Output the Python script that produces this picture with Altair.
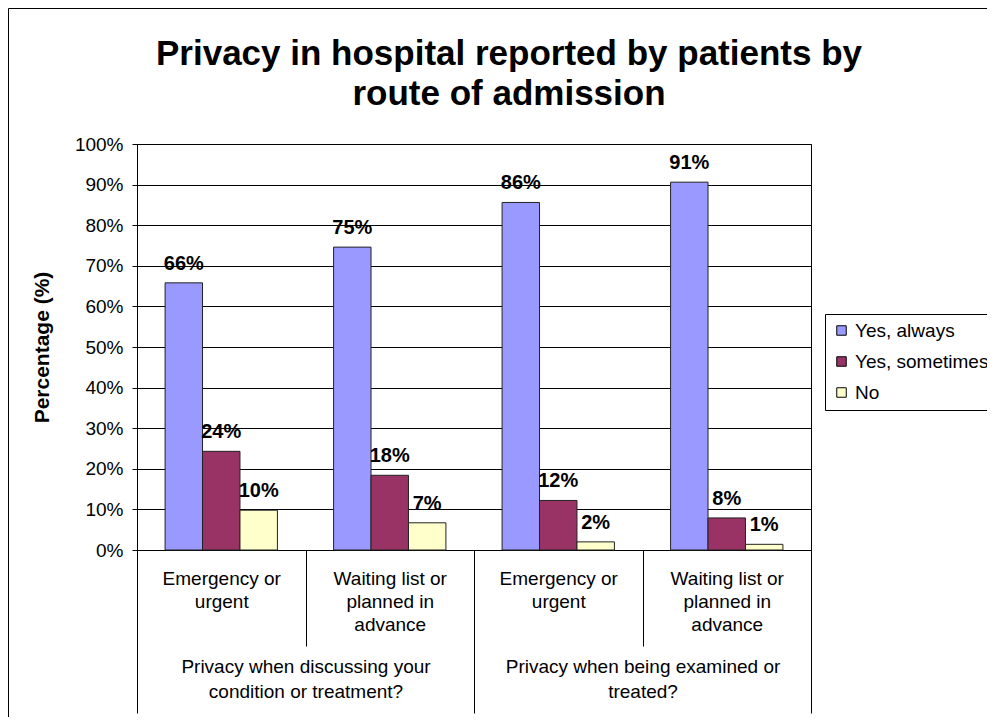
import altair as alt
import pandas as pd

# ---- data ----
title_lines = ["Privacy in hospital reported by patients by", "route of admission"]
groups = ["Privacy when discussing your|condition or treatment?",
          "Privacy when being examined or|treated?"]
routes = ["Emergency or|urgent", "Waiting list or|planned in|advance"]
series = ["Yes, always", "Yes, sometimes", "No"]
colors = ["#9999FF", "#993366", "#FFFFCC"]

yes_always = [65.8, 74.6, 85.6, 90.6]
yes_sometimes = [24.3, 18.4, 12.2, 7.9]
no_vals = [9.8, 6.7, 2.0, 1.4]

keys = []
for g_i, g in enumerate(groups):
    for r in routes:
        keys.append(f"{g_i}::{r}")

rows = []
for s, vals in zip(series, [yes_always, yes_sometimes, no_vals]):
    for k, v in zip(keys, vals):
        rows.append({"key": k, "series": s, "value": v})
df = pd.DataFrame(rows)
group_df = pd.DataFrame({"group": groups})

FONT = "Liberation Sans"

# ---- chart ----
base = alt.Chart(df)

x_cat = alt.X(
    "key:N", sort=keys,
    scale=alt.Scale(paddingInner=0, paddingOuter=0),
    axis=alt.Axis(
        title=None, orient="bottom", tickBand="extent", tickSize=96,
        tickColor="black", domainColor="black", labelColor="black",
        labelFontSize=19, labelLineHeight=23, labelBaseline="top",
        labelPadding=-77, labelAngle=0, labelLimit=400,
        labelExpr="indexof('' + datum.label, '::') < 0 ? '' : split(split(datum.label, '::')[1], '|')",
    ),
)
x_off = alt.XOffset("series:N", sort=series,
                    scale=alt.Scale(paddingInner=0, paddingOuter=0.75))
y_val = alt.Y(
    "value:Q", scale=alt.Scale(domain=[0, 100], nice=False),
    axis=alt.Axis(
        values=list(range(0, 101, 10)), labelExpr="datum.value + '%'",
        tickSize=5, tickColor="black", domainColor="black",
        gridColor="black", gridOpacity=1, gridWidth=1,
        labelColor="black", labelFontSize=19, labelPadding=9,
        title="Percentage (%)", titleFontSize=21, titleFontWeight="bold",
        titleColor="black", titleX=-95, titleY=203, titleBaseline="middle",
        titleAngle=270,
    ),
)

bars = base.mark_bar(stroke="#222222", strokeWidth=1).encode(
    x=x_cat, xOffset=x_off, y=y_val,
    color=alt.Color(
        "series:N", sort=series,
        scale=alt.Scale(domain=series, range=colors),
        legend=alt.Legend(
            title=None, orient="none", legendX=688, legendY=170,
            strokeColor="black", fillColor="white", padding=7,
            labelFontSize=19, labelColor="black", symbolType="square",
            symbolSize=90, symbolStrokeColor="black", symbolStrokeWidth=1,
            rowPadding=11, labelOffset=4, cornerRadius=0, labelLimit=400,
        ),
    ),
)

labels = base.transform_calculate(
    label="format(datum.value, '.0f') + '%'"
).mark_text(fontWeight="bold", fontSize=20, baseline="bottom", dy=-9,
            color="black").encode(
    x=alt.X("key:N", sort=keys), xOffset=alt.XOffset("series:N", sort=series),
    y=alt.Y("value:Q"), text="label:N",
)

inner = alt.layer(bars, labels)

group_layer = alt.Chart(group_df).mark_point(opacity=0).encode(
    x=alt.X(
        "group:N", sort=groups,
        scale=alt.Scale(paddingInner=0, paddingOuter=0),
        axis=alt.Axis(
            title=None, orient="bottom", tickBand="extent", tickSize=163,
            tickColor="black", domainColor="black", labelColor="black",
            labelFontSize=19, labelLineHeight=25, labelBaseline="top",
            labelPadding=-56, labelAngle=0, labelLimit=500,
            labelExpr="indexof('' + datum.label, '|') < 0 ? '' : split(datum.label, '|')",
        ),
    ),
    y=alt.value(0),
)

frame = alt.Chart(alt.Data(values=[{}])).mark_rect(
    fillOpacity=0, stroke="black", strokeWidth=1
).encode(
    x=alt.value(-128.5), y=alt.value(-135.5),
    x2=alt.value(2000), y2=alt.value(2000),
)

title = alt.Chart(alt.Data(values=[{}])).mark_text(
    fontSize=35, fontWeight="bold", color="black", align="center",
    baseline="alphabetic", lineHeight=40, font=FONT,
).encode(
    x=alt.value(372), y=alt.value(-79), text=alt.value(title_lines),
)

chart = alt.layer(frame, title, inner, group_layer).resolve_scale(
    x="independent"
).properties(
    width=674, height=406,
    autosize=alt.AutoSizeParams(type="none"),
    padding={"left": 129, "top": 136, "right": 176, "bottom": 167},
).configure(
    font=FONT,
).configure_view(
    stroke="black", strokeWidth=1,
)

chart.save("out.html", embed_options={"renderer": "svg", "actions": False})
